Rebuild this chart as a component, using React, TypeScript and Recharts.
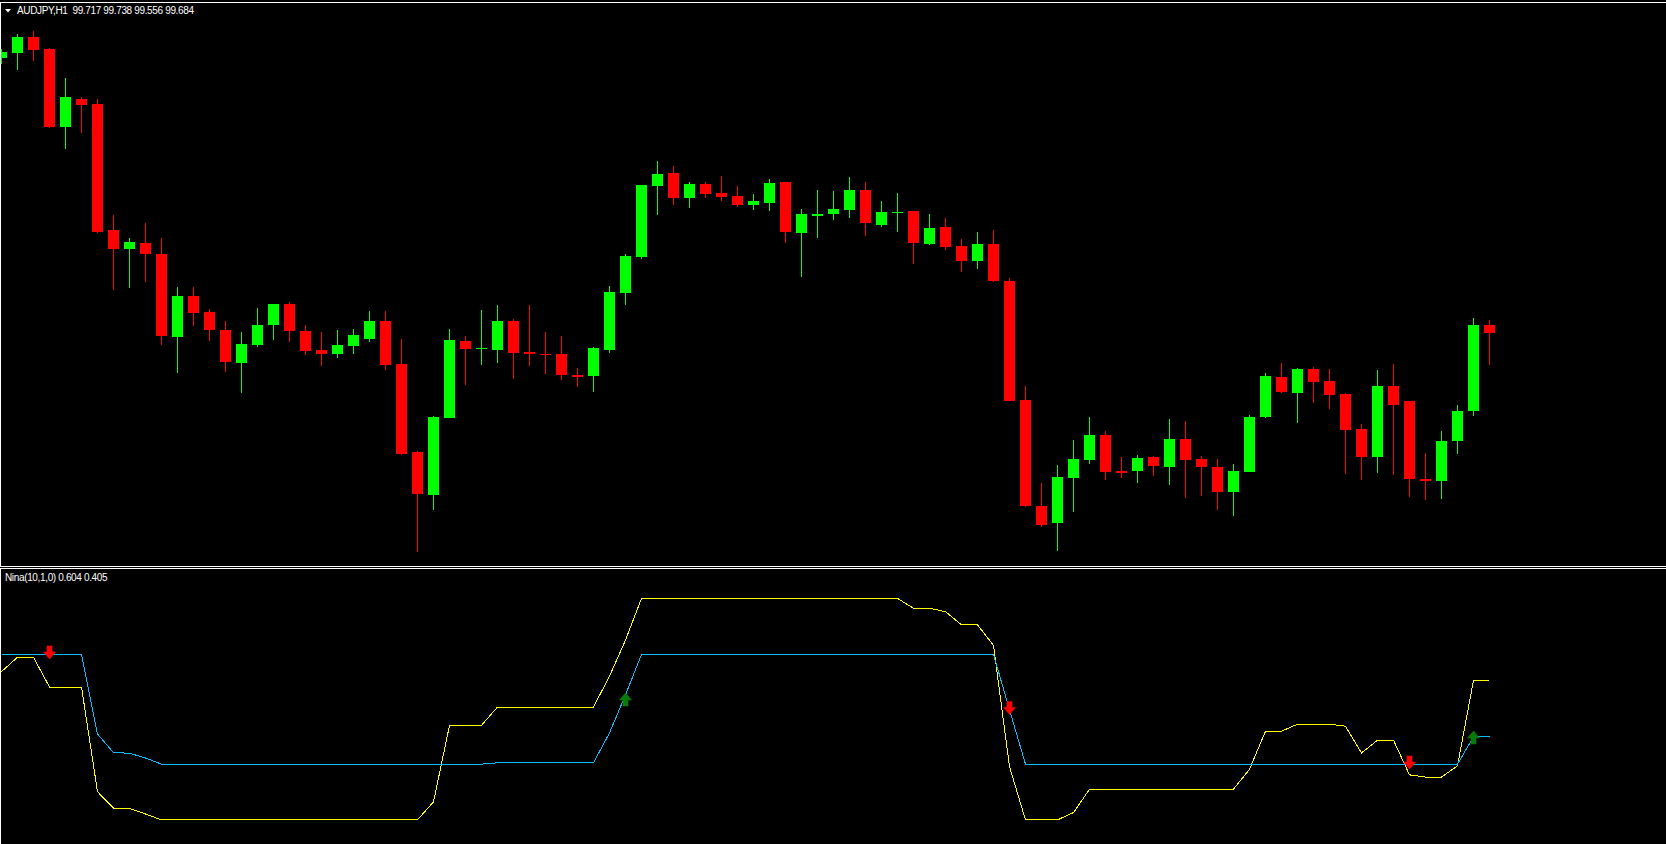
import React from 'react';
import { ComposedChart, Bar, Line, Scatter, XAxis, YAxis } from 'recharts';

// AUDJPY H1 candles (oldest first)
const opens = [
  100.785, 100.805, 100.869, 100.821, 100.509, 100.621, 100.601, 100.097, 100.021, 100.045,
  100.001, 99.669, 99.833, 99.769, 99.697, 99.565, 99.637, 99.717, 99.801, 99.693,
  99.617, 99.601, 99.633, 99.661, 99.733, 99.561, 99.209, 99.037, 99.345, 99.653,
  99.621, 99.617, 99.733, 99.609, 99.601, 99.601, 99.517, 99.513, 99.617, 99.845,
  99.989, 100.273, 100.325, 100.225, 100.281, 100.245, 100.233, 100.197, 100.205, 100.289,
  100.085, 100.153, 100.161, 100.177, 100.257, 100.117, 100.165, 100.173, 100.041, 100.109,
  100.033, 99.973, 100.041, 99.893, 99.417, 98.993, 98.925, 99.105, 99.177, 99.277,
  99.133, 99.133, 99.189, 99.149, 99.261, 99.181, 99.149, 99.049, 99.129, 99.349,
  99.509, 99.445, 99.541, 99.493, 99.441, 99.301, 99.189, 99.473, 99.413, 99.101,
  99.093, 99.253, 99.373, 99.717,
];
const highs = [
  100.821, 100.881, 100.893, 100.825, 100.705, 100.629, 100.621, 100.157, 100.065, 100.125,
  100.065, 99.869, 99.869, 99.781, 99.733, 99.689, 99.785, 99.801, 99.809, 99.717,
  99.689, 99.697, 99.701, 99.773, 99.773, 99.661, 99.213, 99.353, 99.701, 99.673,
  99.777, 99.797, 99.741, 99.797, 99.689, 99.673, 99.545, 99.629, 99.873, 100.001,
  100.277, 100.373, 100.353, 100.289, 100.289, 100.313, 100.273, 100.241, 100.301, 100.289,
  100.181, 100.257, 100.253, 100.309, 100.289, 100.213, 100.245, 100.173, 100.161, 100.145,
  100.061, 100.089, 100.097, 99.905, 99.473, 99.085, 99.157, 99.257, 99.349, 99.293,
  99.189, 99.197, 99.193, 99.341, 99.333, 99.193, 99.181, 99.161, 99.357, 99.525,
  99.565, 99.545, 99.549, 99.541, 99.445, 99.321, 99.537, 99.561, 99.413, 99.205,
  99.293, 99.397, 99.745, 99.738,
];
const lows = [
  100.761, 100.737, 100.773, 100.505, 100.421, 100.485, 100.085, 99.857, 99.865, 99.889,
  99.637, 99.525, 99.713, 99.653, 99.529, 99.445, 99.629, 99.657, 99.649, 99.597,
  99.553, 99.585, 99.601, 99.649, 99.537, 99.197, 98.809, 98.977, 99.345, 99.477,
  99.557, 99.565, 99.501, 99.553, 99.521, 99.497, 99.469, 99.449, 99.605, 99.797,
  99.981, 100.157, 100.197, 100.185, 100.225, 100.213, 100.189, 100.177, 100.173, 100.045,
  99.909, 100.065, 100.137, 100.145, 100.073, 100.109, 100.089, 99.961, 100.037, 100.017,
  99.929, 99.941, 99.889, 99.413, 98.989, 98.909, 98.813, 98.969, 99.161, 99.097,
  99.105, 99.085, 99.113, 99.077, 99.025, 99.033, 98.977, 98.953, 99.129, 99.345,
  99.445, 99.325, 99.405, 99.381, 99.121, 99.097, 99.125, 99.117, 99.029, 99.017,
  99.021, 99.201, 99.353, 99.556,
];
const closes = [
  100.809, 100.869, 100.817, 100.509, 100.629, 100.597, 100.089, 100.021, 100.049, 100.001,
  99.673, 99.833, 99.765, 99.697, 99.569, 99.641, 99.717, 99.801, 99.693, 99.613,
  99.601, 99.637, 99.677, 99.733, 99.557, 99.201, 99.041, 99.349, 99.657, 99.621,
  99.625, 99.733, 99.605, 99.601, 99.597, 99.517, 99.509, 99.625, 99.849, 99.993,
  100.277, 100.321, 100.225, 100.281, 100.241, 100.229, 100.197, 100.213, 100.285, 100.089,
  100.161, 100.161, 100.181, 100.257, 100.125, 100.169, 100.169, 100.045, 100.105, 100.029,
  99.973, 100.041, 99.893, 99.413, 98.993, 98.917, 99.109, 99.181, 99.277, 99.129,
  99.125, 99.185, 99.153, 99.261, 99.177, 99.149, 99.049, 99.133, 99.349, 99.513,
  99.449, 99.541, 99.489, 99.437, 99.297, 99.189, 99.473, 99.397, 99.101, 99.093,
  99.253, 99.373, 99.717, 99.684,
];

// Nina(10,1,0) buffers
const ninaYellow = [
  0.634, 0.685, 0.685, 0.579, 0.579, 0.579, 0.207, 0.149, 0.147, 0.128,
  0.107, 0.107, 0.107, 0.107, 0.107, 0.107, 0.107, 0.107, 0.107, 0.107,
  0.107, 0.107, 0.107, 0.107, 0.107, 0.107, 0.107, 0.171, 0.443, 0.443,
  0.443, 0.508, 0.508, 0.508, 0.508, 0.508, 0.508, 0.508, 0.618, 0.746,
  0.894, 0.894, 0.894, 0.894, 0.894, 0.894, 0.894, 0.894, 0.894, 0.894,
  0.894, 0.894, 0.894, 0.894, 0.894, 0.894, 0.894, 0.859, 0.859, 0.847,
  0.800, 0.800, 0.727, 0.296, 0.107, 0.107, 0.107, 0.133, 0.216, 0.216,
  0.216, 0.216, 0.216, 0.216, 0.216, 0.216, 0.216, 0.216, 0.287, 0.422,
  0.422, 0.447, 0.447, 0.447, 0.440, 0.345, 0.390, 0.390, 0.267, 0.259,
  0.259, 0.299, 0.603, 0.604,
];
const ninaBlue = [
  0.695, 0.695, 0.695, 0.695, 0.695, 0.695, 0.412, 0.346, 0.344, 0.327,
  0.305, 0.305, 0.305, 0.305, 0.305, 0.305, 0.305, 0.305, 0.305, 0.305,
  0.305, 0.305, 0.305, 0.305, 0.305, 0.305, 0.305, 0.305, 0.305, 0.305,
  0.305, 0.310, 0.310, 0.310, 0.310, 0.310, 0.310, 0.310, 0.416, 0.551,
  0.695, 0.695, 0.695, 0.695, 0.695, 0.695, 0.695, 0.695, 0.695, 0.695,
  0.695, 0.695, 0.695, 0.695, 0.695, 0.695, 0.695, 0.695, 0.695, 0.695,
  0.695, 0.695, 0.695, 0.498, 0.305, 0.305, 0.305, 0.305, 0.305, 0.305,
  0.305, 0.305, 0.305, 0.305, 0.305, 0.305, 0.305, 0.305, 0.305, 0.305,
  0.305, 0.305, 0.305, 0.305, 0.305, 0.305, 0.305, 0.305, 0.305, 0.305,
  0.305, 0.305, 0.402, 0.405,
];

// signal arrows (bar index + value where the arrow sits)
const sellBars = [3, 63, 88];
const sellValues = [0.702, 0.505, 0.311];
const buyBars = [39, 92];
const buyValues = [0.535, 0.4];

const SYMBOL = 'AUDJPY,H1';
const INDICATOR = 'Nina(10,1,0)';

const W = 1666;
const MAIN_H = 566;
const SUB_TOP = 569;
const SUB_H = 844 - SUB_TOP;
const X_DOMAIN: [number, number] = [-0.09375, 104.03125];
const PRICE_DOMAIN: [number, number] = [98.753, 101.017];
const NINA_DOMAIN: [number, number] = [0.0213, 0.9986];

const candles = opens.map((o, i) => ({
  i,
  open: o,
  high: highs[i],
  low: lows[i],
  close: closes[i],
  range: [lows[i], highs[i]],
}));

const nina = ninaYellow.map((v, i) => ({ i, yellow: v, blue: ninaBlue[i] }));
const sells = sellBars.map((i, k) => ({ i, v: sellValues[k] }));
const buys = buyBars.map((i, k) => ({ i, v: buyValues[k] }));

function Candle(props: any) {
  const { x, y, width, height, payload } = props;
  if (!payload || x == null || y == null) return null;
  const top = Math.min(y, y + height);
  const h = Math.abs(height);
  const span = payload.high - payload.low;
  const k = span > 0 ? h / span : 0;
  const cx = Math.round(x + width / 2 - 0.5) + 0.5;
  const yO = top + (payload.high - payload.open) * k;
  const yC = top + (payload.high - payload.close) * k;
  const color = payload.close >= payload.open ? '#00ff00' : '#ff0000';
  const bodyTop = Math.round(Math.min(yO, yC));
  const bodyH = Math.max(1, Math.round(Math.abs(yO - yC)));
  return (
    <g>
      <line x1={cx} x2={cx} y1={Math.round(top)} y2={Math.round(top + h)} stroke={color} shapeRendering="crispEdges" />
      <rect x={cx - 5.5} y={bodyTop} width={11} height={bodyH} fill={color} shapeRendering="crispEdges" />
    </g>
  );
}

// wingdings-like arrow, down for sell, up for buy
function arrow(dir: 1 | -1, color: string) {
  return (props: any) => {
    const { cx, cy } = props;
    if (cx == null || cy == null) return null;
    const p = [
      [-2.5, -6.5], [2.5, -6.5], [2.5, -0.5], [6, -0.5], [0, 6.5], [-6, -0.5], [-2.5, -0.5],
    ]
      .map(([dx, dy]) => `${cx + dx},${cy + dy * dir}`)
      .join(' ');
    return <polygon points={p} fill={color} stroke={color} strokeWidth={0.6} />;
  };
}

const label: React.CSSProperties = {
  position: 'absolute',
  color: '#ffffff',
  fontFamily: '"Liberation Sans", Arial, sans-serif',
  fontSize: 10,
  lineHeight: '12px',
  letterSpacing: '-0.35px',
  whiteSpace: 'pre',
};

export default function App() {
  const last = candles[candles.length - 1];
  const header = `${SYMBOL}  ${last.open.toFixed(3)} ${last.high.toFixed(3)} ${last.low.toFixed(3)} ${last.close.toFixed(3)}`;
  const ninaText = `${INDICATOR} ${ninaYellow[ninaYellow.length - 1].toFixed(3)} ${ninaBlue[ninaBlue.length - 1].toFixed(3)}`;

  return (
    <div style={{ position: 'absolute', left: 0, top: 0, width: W, height: 844, background: '#000', overflow: 'hidden' }}>
      {/* price window */}
      <div style={{ position: 'absolute', left: 0, top: 0 }}>
        <ComposedChart width={W} height={MAIN_H} data={candles} margin={{ top: 0, right: 0, bottom: 0, left: 0 }}>
          <XAxis hide type="number" dataKey="i" domain={X_DOMAIN} allowDataOverflow />
          <YAxis hide type="number" domain={PRICE_DOMAIN} allowDataOverflow />
          <Bar dataKey="range" barSize={11} shape={<Candle />} isAnimationActive={false} />
        </ComposedChart>
      </div>

      {/* indicator window */}
      <div style={{ position: 'absolute', left: 0, top: SUB_TOP }}>
        <ComposedChart width={W} height={SUB_H} data={nina} margin={{ top: 0, right: 0, bottom: 0, left: 0 }}>
          <XAxis hide type="number" dataKey="i" domain={X_DOMAIN} allowDataOverflow />
          <YAxis hide type="number" domain={NINA_DOMAIN} allowDataOverflow />
          <Line type="linear" dataKey="yellow" stroke="#ffff00" strokeWidth={1} dot={false} shapeRendering="crispEdges" isAnimationActive={false} />
          <Line type="linear" dataKey="blue" stroke="#00bfff" strokeWidth={1} dot={false} shapeRendering="crispEdges" isAnimationActive={false} />
          <Scatter data={sells} dataKey="v" shape={arrow(1, '#ff0000')} isAnimationActive={false} />
          <Scatter data={buys} dataKey="v" shape={arrow(-1, '#0a7a0a')} isAnimationActive={false} />
        </ComposedChart>
      </div>

      {/* window frames */}
      <div style={{ position: 'absolute', left: 0, top: 2, width: W, height: 1, background: '#fff' }} />
      <div style={{ position: 'absolute', left: 0, top: 566, width: W, height: 1, background: '#fff' }} />
      <div style={{ position: 'absolute', left: 0, top: 568, width: W, height: 1, background: '#fff' }} />
      <div style={{ position: 'absolute', left: 0, top: 2, width: 1, height: 565, background: '#fff' }} />
      <div style={{ position: 'absolute', left: 0, top: 568, width: 1, height: 844 - 568, background: '#fff' }} />

      <svg style={{ position: 'absolute', left: 0, top: 0 }} width={14} height={16}>
        <polygon points="5,9 11,9 8,12.5" fill="#fff" />
      </svg>
      <div style={{ ...label, left: 17, top: 5 }}>{header}</div>
      <div style={{ ...label, left: 5, top: 572 }}>{ninaText}</div>
    </div>
  );
}
